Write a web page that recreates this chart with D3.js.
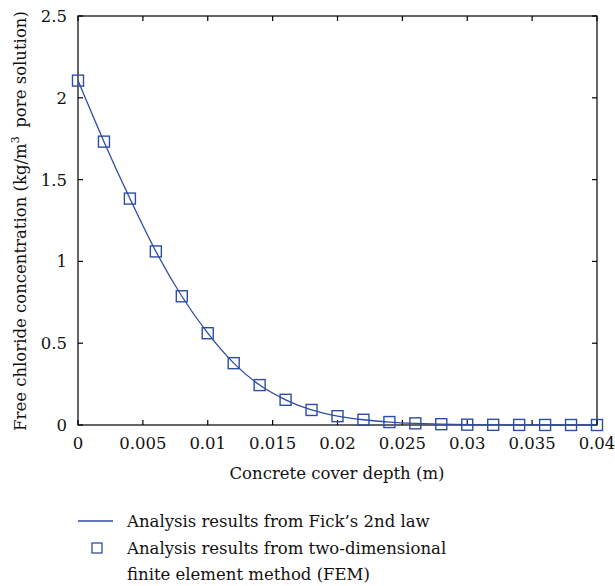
<!DOCTYPE html>
<html><head><meta charset="utf-8">
<script src="https://cdn.jsdelivr.net/npm/d3@7/dist/d3.min.js"></script>
<style>body{margin:0;background:#fff}svg{display:block}text{font-family:"DejaVu Serif","Liberation Serif",serif;fill:#111}</style>
</head><body><svg id="c" width="615" height="586"></svg>
<script>
const depth = [0,0.002,0.004,0.006,0.008,0.01,0.012,0.014,0.016,0.018,0.02,0.022,0.024,0.026,0.028,0.03,0.032,0.034,0.036,0.038,0.04];
const ficks = [2.105,1.732,1.384,1.061,0.787,0.561,0.378,0.244,0.154,0.092,0.054,0.032,0.018,0.010,0.005,0.002,0.001,0.0005,0.0002,0.0001,0.0];
const fem = [2.105,1.732,1.384,1.061,0.787,0.561,0.378,0.244,0.154,0.092,0.054,0.032,0.018,0.010,0.005,0.002,0.001,0.0005,0.0002,0.0001,0.0];
const xTicks = [0,0.005,0.01,0.015,0.02,0.025,0.03,0.035,0.04];
const xTickLabels = ["0","0.005","0.01","0.015","0.02","0.025","0.03","0.035","0.04"];
const yTicks = [0,0.5,1,1.5,2,2.5];
const yTickLabels = ["0","0.5","1","1.5","2","2.5"];
const legendLabels = ["Analysis results from Fick\u2019s 2nd law","Analysis results from two-dimensional","finite element method (FEM)"];

const svg = d3.select("#c");
const L=78, R=597, T=16, B=425;
const x = d3.scaleLinear().domain([0,0.04]).range([L,R]);
const y = d3.scaleLinear().domain([0,2.5]).range([B,T]);
const blue = "#2e4da6";
const fs = 16.5;

const g = svg.append("g");
g.append("rect").attr("x",L).attr("y",T).attr("width",R-L).attr("height",B-T)
 .attr("fill","none").attr("stroke","#000").attr("stroke-width",1.2);
xTicks.forEach((t,i)=>{
  g.append("line").attr("x1",x(t)).attr("x2",x(t)).attr("y1",B).attr("y2",B-5).attr("stroke","#000").attr("stroke-width",1.2);
  g.append("line").attr("x1",x(t)).attr("x2",x(t)).attr("y1",T).attr("y2",T+5).attr("stroke","#000").attr("stroke-width",1.2);
  g.append("text").attr("x",x(t)).attr("y",B+24).attr("text-anchor","middle").attr("font-size",fs).text(xTickLabels[i]);
});
yTicks.forEach((t,i)=>{
  g.append("line").attr("x1",L).attr("x2",L+5).attr("y1",y(t)).attr("y2",y(t)).attr("stroke","#000").attr("stroke-width",1.2);
  g.append("line").attr("x1",R).attr("x2",R-5).attr("y1",y(t)).attr("y2",y(t)).attr("stroke","#000").attr("stroke-width",1.2);
  g.append("text").attr("x",L-11).attr("y",y(t)+6).attr("text-anchor","end").attr("font-size",fs).text(yTickLabels[i]);
});
g.append("text").attr("x",337).attr("y",479).attr("text-anchor","middle").attr("font-size",fs).text("Concrete cover depth (m)");
const yt = g.append("text").attr("transform","translate(26,221) rotate(-90)").attr("text-anchor","middle").attr("font-size",fs);
yt.append("tspan").text("Free chloride concentration (kg/m");
yt.append("tspan").attr("dy",-7).attr("font-size",11).text("3");
yt.append("tspan").attr("dy",7).text("\u2009 pore solution)");

const line = d3.line().x((d,i)=>x(depth[i])).y(d=>y(d)).curve(d3.curveMonotoneX);
g.append("path").datum(ficks).attr("d",line).attr("fill","none").attr("stroke",blue).attr("stroke-width",1.3);
const s=11;
g.selectAll("rect.m").data(fem).join("rect").attr("class","m")
 .attr("x",(d,i)=>x(depth[i])-s/2).attr("y",d=>y(d)-s/2).attr("width",s).attr("height",s)
 .attr("fill","none").attr("stroke",blue).attr("stroke-width",1.4);

const lg = svg.append("g");
lg.append("line").attr("x1",78).attr("x2",113).attr("y1",521).attr("y2",521).attr("stroke",blue).attr("stroke-width",1.3);
lg.append("rect").attr("x",97-5).attr("y",548-5).attr("width",10).attr("height",10).attr("fill","none").attr("stroke",blue).attr("stroke-width",1.3);
legendLabels.forEach((t,i)=>{
  lg.append("text").attr("x",127).attr("y",527+i*26.5).attr("font-size",fs).text(t);
});
</script></body></html>
